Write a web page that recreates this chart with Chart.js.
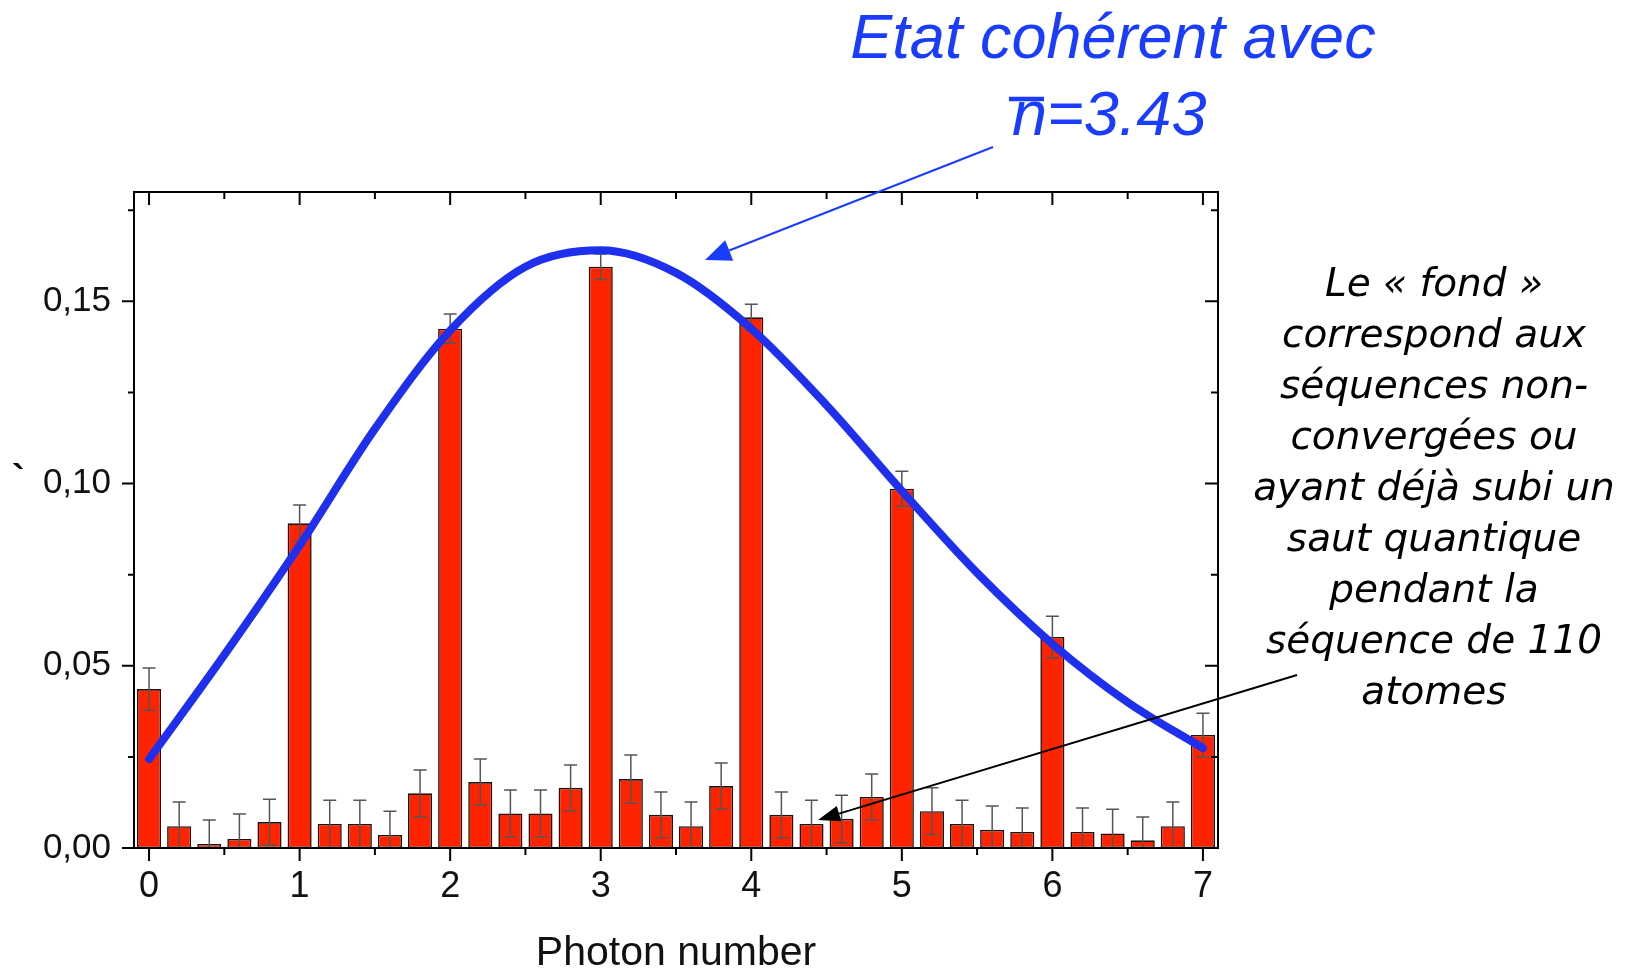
<!DOCTYPE html>
<html>
<head>
<meta charset="utf-8">
<script src="https://cdn.jsdelivr.net/npm/chart.js@4"></script>
<style>
  html, body { margin: 0; padding: 0; background: #fff; }
  #wrap { width: 1638px; height: 968px; position: relative; }
</style>
</head>
<body>
<div id="wrap"><canvas id="photonChart"></canvas></div>
<script>
// Mesure de la distribution du nombre de photons
const photonNumbers = [0, 0.2, 0.4, 0.6, 0.8, 1, 1.2, 1.4, 1.6, 1.8, 2, 2.2, 2.4, 2.6, 2.8, 3, 3.2, 3.4, 3.6, 3.8,
                       4, 4.2, 4.4, 4.6, 4.8, 5, 5.2, 5.4, 5.6, 5.8, 6, 6.2, 6.4, 6.6, 6.8, 7];
const probabilities = [0.0436, 0.0060, 0.0011, 0.0025, 0.0071, 0.0891, 0.0066, 0.0066, 0.0036, 0.0150,
                       0.1425, 0.0181, 0.0095, 0.0095, 0.0165, 0.1595, 0.0189, 0.0091, 0.0060, 0.0170,
                       0.1456, 0.0091, 0.0066, 0.0080, 0.0140, 0.0986, 0.0101, 0.0066, 0.0050, 0.0044,
                       0.0579, 0.0044, 0.0040, 0.0021, 0.0060, 0.0310];
const errors = [0.0058, 0.0066, 0.0066, 0.0068, 0.0063, 0.0050, 0.0065, 0.0065, 0.0065, 0.0064,
                0.0040, 0.0063, 0.0064, 0.0064, 0.0063, 0.0035, 0.0066, 0.0063, 0.0066, 0.0063,
                0.0036, 0.0063, 0.0065, 0.0065, 0.0063, 0.0048, 0.0064, 0.0065, 0.0065, 0.0066,
                0.0057, 0.0066, 0.0066, 0.0064, 0.0066, 0.0060];

// courbe de l'état cohérent
const fitX = [0, 0.5, 1, 1.5, 2, 2.5, 3, 3.5, 4, 4.5, 5, 5.5, 6, 6.5, 7];
const fitY = [0.0244, 0.0530, 0.0830, 0.1150, 0.1420, 0.1595, 0.1640, 0.1578, 0.1425, 0.1215,
              0.0980, 0.0755, 0.0560, 0.0400, 0.0274];

const xTicks = [0, 1, 2, 3, 4, 5, 6, 7];
const xMinorTicks = [0.5, 1.5, 2.5, 3.5, 4.5, 5.5, 6.5];
const yTicks = [0, 0.05, 0.10, 0.15];
const yMinorTicks = [0.025, 0.075, 0.125, 0.175];

const FONT = '"Liberation Sans", Arial, sans-serif';

// barres d'erreur (au-dessus des barres, sous la courbe)
const errorBars = {
    id: 'errorBars',
    afterDatasetDraw(chart, args) {
        if (args.meta.type !== 'bar') return;
        const ctx = chart.ctx;
        const y = chart.scales.y;
        const area = chart.chartArea;
        ctx.save();
        ctx.beginPath();
        ctx.rect(area.left, area.top, area.right - area.left, area.bottom - area.top);
        ctx.clip();
        ctx.strokeStyle = '#555';
        ctx.lineWidth = 1.5;
        args.meta.data.forEach((bar, i) => {
            const v = probabilities[i], e = errors[i];
            const top = y.getPixelForValue(v + e);
            const bot = y.getPixelForValue(v - e);
            ctx.beginPath();
            ctx.moveTo(bar.x, top);
            ctx.lineTo(bar.x, bot);
            ctx.moveTo(bar.x - 6.5, top);
            ctx.lineTo(bar.x + 6.5, top);
            ctx.moveTo(bar.x - 6.5, bot);
            ctx.lineTo(bar.x + 6.5, bot);
            ctx.stroke();
        });
        ctx.restore();
    }
};

// cadre et graduations sur les quatre côtés
const frame = {
    id: 'frame',
    afterDraw(chart) {
        const ctx = chart.ctx;
        const { left, right, top, bottom } = chart.chartArea;
        const x = chart.scales.x, y = chart.scales.y;
        ctx.save();
        ctx.strokeStyle = '#000';
        ctx.lineWidth = 2;
        ctx.strokeRect(left, top, right - left, bottom - top);
        ctx.beginPath();
        const tickX = (vals, len) => vals.forEach(v => {
            const px = x.getPixelForValue(v);
            ctx.moveTo(px, bottom); ctx.lineTo(px, bottom + len);
            ctx.moveTo(px, top); ctx.lineTo(px, top + len);
        });
        const tickY = (vals, len) => vals.forEach(v => {
            const py = y.getPixelForValue(v);
            ctx.moveTo(left, py); ctx.lineTo(left - len, py);
            ctx.moveTo(right, py); ctx.lineTo(right - len - 1, py);
        });
        tickX(xTicks, 13);
        tickX(xMinorTicks, 7);
        tickY(yTicks, 12);
        tickY(yMinorTicks, 6);
        ctx.stroke();
        ctx.restore();
    }
};

function arrow(ctx, x0, y0, x1, y1, color, width, headLen, headHalf) {
    const a = Math.atan2(y1 - y0, x1 - x0);
    const bx = x1 - headLen * Math.cos(a), by = y1 - headLen * Math.sin(a);
    ctx.strokeStyle = color;
    ctx.fillStyle = color;
    ctx.lineWidth = width;
    ctx.beginPath();
    ctx.moveTo(x0, y0);
    ctx.lineTo(bx, by);
    ctx.stroke();
    ctx.beginPath();
    ctx.moveTo(x1, y1);
    ctx.lineTo(bx + headHalf * Math.sin(a), by - headHalf * Math.cos(a));
    ctx.lineTo(bx - headHalf * Math.sin(a), by + headHalf * Math.cos(a));
    ctx.closePath();
    ctx.fill();
}

// textes et flèches autour du graphe
const notes = {
    id: 'notes',
    afterDraw(chart) {
        const ctx = chart.ctx;
        ctx.save();

        // titre bleu
        const blue = '#1a3cff';
        ctx.fillStyle = blue;
        ctx.font = 'italic 63px ' + FONT;
        ctx.textBaseline = 'alphabetic';
        ctx.textAlign = 'center';
        ctx.fillText('Etat cohérent avec', 1113, 58);
        ctx.textAlign = 'left';
        ctx.fillText('n=3.43', 1012, 135);
        ctx.strokeStyle = blue;
        ctx.lineWidth = 4.5;
        ctx.beginPath();
        ctx.moveTo(1009, 99);
        ctx.lineTo(1044, 99);
        ctx.stroke();
        arrow(ctx, 993, 147, 705, 260, blue, 2, 26, 11);

        // commentaire sur le fond
        ctx.fillStyle = '#000';
        ctx.font = 'italic 39px "Comic Sans MS", "DejaVu Sans", sans-serif';
        ctx.textAlign = 'center';
        const lines = ['Le « fond »', 'correspond aux', 'séquences non-', 'convergées ou',
                       'ayant déjà subi un', 'saut quantique', 'pendant la',
                       'séquence de 110', 'atomes'];
        lines.forEach((t, i) => ctx.fillText(t, 1434, 296 + i * 51));
        arrow(ctx, 1297, 675, 818, 820, '#000', 2, 22, 8);

        ctx.font = 'bold 38px ' + FONT;
        ctx.textAlign = 'left';
        ctx.fillText('`', 12, 492);
        ctx.restore();
    }
};

new Chart(document.getElementById('photonChart'), {
    data: {
        datasets: [{
            type: 'line',
            order: 0,
            data: fitX.map((v, i) => ({ x: v, y: fitY[i] })),
            borderColor: '#1e30ee',
            borderWidth: 8,
            borderCapStyle: 'round',
            cubicInterpolationMode: 'monotone',
            pointRadius: 0,
            fill: false
        }, {
            type: 'bar',
            order: 1,
            data: photonNumbers.map((v, i) => ({ x: v, y: probabilities[i] })),
            backgroundColor: '#ff2400',
            borderColor: '#1e1210',
            borderWidth: 1.6,
            borderSkipped: false,
            categoryPercentage: 1,
            barPercentage: 0.8
        }]
    },
    options: {
        responsive: true,
        maintainAspectRatio: false,
        animation: false,
        events: [],
        layout: {
            padding: { left: 0, top: 192, right: 420, bottom: 0 }
        },
        plugins: {
            legend: { display: false },
            tooltip: { enabled: false }
        },
        scales: {
            x: {
                type: 'linear',
                min: -0.1,
                max: 7.1,
                offset: false,
                afterBuildTicks: s => { s.ticks = xTicks.map(v => ({ value: v })); },
                afterFit: s => { s.height = 120; },
                grid: { display: false, drawTicks: false },
                border: { display: false },
                ticks: {
                    color: '#111',
                    padding: 17,
                    font: { family: FONT, size: 36 },
                    maxRotation: 0,
                    callback: v => String(v)
                },
                title: {
                    display: true,
                    text: 'Photon number',
                    color: '#111',
                    font: { family: FONT, size: 41, lineHeight: 1 },
                    padding: { top: 0, bottom: -6 }
                }
            },
            y: {
                min: 0,
                max: 0.18,
                afterBuildTicks: s => { s.ticks = yTicks.map(v => ({ value: v })); },
                afterFit: s => { s.width = 134; },
                grid: { display: false, drawTicks: false },
                border: { display: false },
                ticks: {
                    color: '#111',
                    padding: 23,
                    font: { family: FONT, size: 35 },
                    callback: v => v.toFixed(2).replace('.', ',')
                }
            }
        }
    },
    plugins: [errorBars, frame, notes]
});
</script>
</body>
</html>
